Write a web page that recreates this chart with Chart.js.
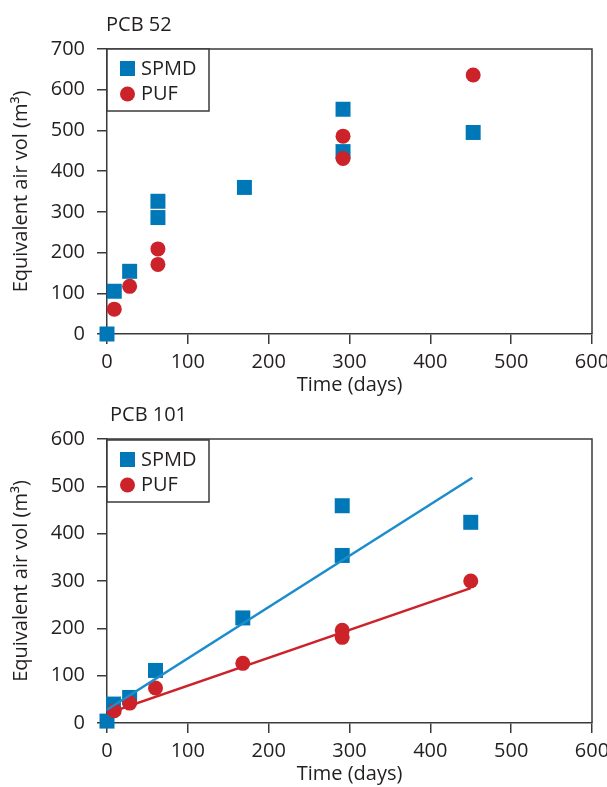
<!DOCTYPE html>
<html>
<head>
<meta charset="utf-8">
<script src="https://cdn.jsdelivr.net/npm/chart.js@4.4.1/dist/chart.umd.min.js"></script>
<style>
  html, body { margin: 0; padding: 0; background: #fff; }
  #wrap { position: relative; width: 607px; height: 787px; }
  .box { position: absolute; left: 0; width: 607px; }
</style>
</head>
<body>
<div id="wrap">
  <div class="box" style="top:0;height:397px"><canvas id="pcb52"></canvas></div>
  <div class="box" style="top:397px;height:390px"><canvas id="pcb101"></canvas></div>
</div>
<script>
// PCB 52 uptake
const days52Spmd = [0, 9, 28, 63, 63, 170, 292, 292, 453];
const vol52Spmd  = [0, 105, 154, 286, 326, 360, 552, 448, 495];
const days52Puf  = [9, 28, 63, 63, 292, 292, 453];
const vol52Puf   = [61, 117, 209, 171, 486, 431, 636];

// PCB 101 uptake
const days101Spmd = [0, 8, 28, 60, 168, 291, 291, 450];
const vol101Spmd  = [4, 40, 54, 111, 222, 459, 354, 424];
const days101Puf  = [9, 28, 60, 168, 291, 291, 450];
const vol101Puf   = [26, 42, 74, 126, 196, 181, 300];

// linear fits for PCB 101
const fitSpmdDays = [0, 452];
const fitSpmdVol  = [28, 518];
const fitPufDays  = [0, 450];
const fitPufVol   = [20, 285];

const xTicks = [0, 100, 200, 300, 400, 500, 600];
const seriesNames = ['SPMD', 'PUF'];

const BLUE = '#0078b8';
const BLUE_LINE = '#1b8dcc';
const RED = '#cc2229';
const INK = '#231f20';
const AXIS = '#3a3a3a';
const FONT = '"Open Sans", sans-serif';

const pts = (xs, ys) => xs.map((x, i) => ({ x: x, y: ys[i] }));

const framePlugin = {
  id: 'frame',
  afterDraw(chart) {
    const { ctx, chartArea: a } = chart;
    ctx.save();
    ctx.strokeStyle = AXIS;
    ctx.lineWidth = 1.5;
    ctx.beginPath();
    ctx.moveTo(a.left, a.top);
    ctx.lineTo(a.right, a.top);
    ctx.lineTo(a.right, a.bottom);
    ctx.stroke();
    ctx.restore();
  }
};

const boxLegend = {
  id: 'boxLegend',
  afterDraw(chart, args, opts) {
    const { ctx, chartArea: a } = chart;
    const x0 = a.left, y0 = a.top + opts.dy;
    ctx.save();
    ctx.fillStyle = '#fff';
    ctx.fillRect(x0, y0, 102, 62);
    ctx.strokeStyle = AXIS;
    ctx.lineWidth = 1.5;
    ctx.strokeRect(x0, y0, 102, 62);
    ctx.fillStyle = BLUE;
    ctx.fillRect(x0 + 13, y0 + 12, 15, 15);
    ctx.fillStyle = RED;
    ctx.beginPath();
    ctx.arc(x0 + 20.5, y0 + 45, 7.5, 0, Math.PI * 2);
    ctx.fill();
    ctx.fillStyle = INK;
    ctx.font = '20px ' + FONT;
    ctx.textBaseline = 'middle';
    ctx.fillText(seriesNames[0], x0 + 34, y0 + 20);
    ctx.fillText(seriesNames[1], x0 + 34, y0 + 45);
    ctx.restore();
  }
};

const panelTitle = {
  id: 'panelTitle',
  afterDraw(chart, args, opts) {
    const { ctx, chartArea: a } = chart;
    ctx.save();
    ctx.fillStyle = INK;
    ctx.font = '20px ' + FONT;
    ctx.textBaseline = 'alphabetic';
    ctx.fillText(opts.text, opts.x, a.top - 18);
    ctx.restore();
  }
};

function makeChart(id, cfg) {
  const noPad = s => { s.paddingLeft = 0; s.paddingRight = 0; s.paddingTop = 0; s.paddingBottom = 0; };
  return new Chart(document.getElementById(id), {
    type: 'scatter',
    data: { datasets: cfg.datasets },
    options: {
      responsive: true,
      maintainAspectRatio: false,
      animation: false,
      layout: { padding: { left: 0, right: 15, top: cfg.top, bottom: 0 } },
      plugins: {
        legend: { display: false },
        tooltip: { enabled: false },
        boxLegend: { dy: cfg.legendDy },
        panelTitle: { text: cfg.title, x: cfg.titleX }
      },
      scales: {
        x: {
          type: 'linear', min: 0, max: 600,
          afterBuildTicks: s => { s.ticks = xTicks.map(v => ({ value: v })); },
          ticks: { color: INK, font: { family: FONT, size: 20 }, padding: 6, maxRotation: 0 },
          grid: { drawOnChartArea: false, drawTicks: true, tickLength: 10, color: AXIS, lineWidth: 1.5 },
          border: { color: AXIS, width: 1.5 },
          title: { display: true, text: 'Time (days)', color: INK, font: { family: FONT, size: 20 }, padding: { top: 0, bottom: cfg.xTitlePad } },
          afterFit: s => { s.height = cfg.xHeight; noPad(s); }
        },
        y: {
          type: 'linear', min: 0, max: cfg.yMax,
          ticks: { stepSize: 100, color: INK, font: { family: FONT, size: 20 }, padding: 12 },
          grid: { drawOnChartArea: false, drawTicks: true, tickLength: 10, color: AXIS, lineWidth: 1.5 },
          border: { color: AXIS, width: 1.5 },
          title: { display: true, text: 'Equivalent air vol (m³)', color: INK, font: { family: FONT, size: 20 }, padding: { top: 9, bottom: 0 } },
          afterFit: s => { s.width = 107; noPad(s); }
        }
      }
    },
    plugins: [framePlugin, boxLegend, panelTitle]
  });
}

const spmdStyle = { backgroundColor: BLUE, borderWidth: 0, pointStyle: 'rect', pointRadius: 10.6, clip: false, order: 2 };
const pufStyle  = { backgroundColor: RED, borderWidth: 0, pointStyle: 'circle', pointRadius: 7.5, clip: false, order: 1 };

makeChart('pcb52', {
  title: 'PCB 52', titleX: 106, top: 49, xHeight: 63, xTitlePad: 0, yMax: 700, legendDy: 0,
  datasets: [
    Object.assign({ label: 'SPMD', data: pts(days52Spmd, vol52Spmd) }, spmdStyle),
    Object.assign({ label: 'PUF', data: pts(days52Puf, vol52Puf) }, pufStyle)
  ]
});

makeChart('pcb101', {
  title: 'PCB 101', titleX: 110, top: 42, xHeight: 64, xTitlePad: 1, yMax: 600, legendDy: 1,
  datasets: [
    Object.assign({ label: 'SPMD', data: pts(days101Spmd, vol101Spmd) }, spmdStyle),
    Object.assign({ label: 'PUF', data: pts(days101Puf, vol101Puf) }, pufStyle),
    { label: 'SPMD fit', data: pts(fitSpmdDays, fitSpmdVol), showLine: true, borderColor: BLUE_LINE, borderWidth: 2.5, pointRadius: 0, order: 0 },
    { label: 'PUF fit', data: pts(fitPufDays, fitPufVol), showLine: true, borderColor: RED, borderWidth: 2.5, pointRadius: 0, order: 0 }
  ]
});
</script>
</body>
</html>
